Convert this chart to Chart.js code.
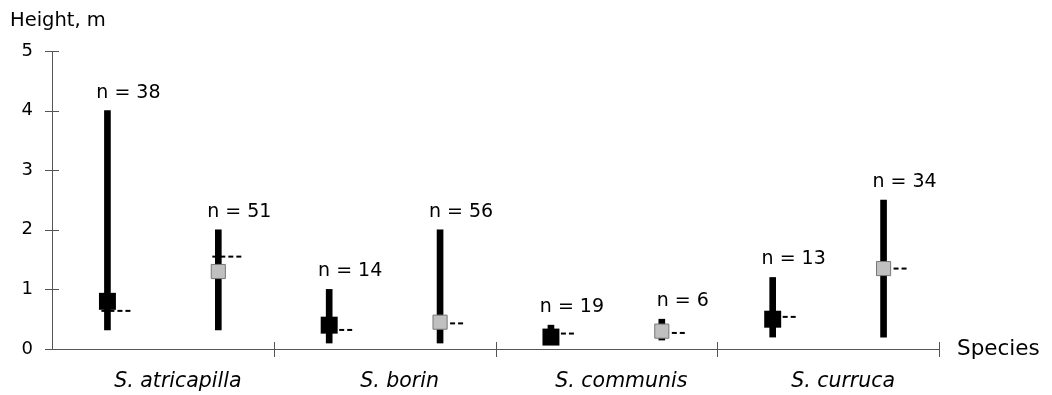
<!DOCTYPE html>
<html>
<head>
<meta charset="utf-8">
<script src="https://cdn.jsdelivr.net/npm/chart.js@4.4.1/dist/chart.umd.min.js"></script>
<style>
  html, body { margin: 0; padding: 0; background: #fff; }
  #wrap { width: 1052px; height: 395px; }
</style>
</head>
<body>
<div id="wrap"><canvas id="myChart"></canvas></div>
<script>
const species = ["S. atricapilla", "S. borin", "S. communis", "S. curruca"];
const yTicks = [0, 1, 2, 3, 4, 5];

// black series
const blackN = [38, 14, 19, 13];
const blackMin = [0.32, 0.1, 0.1, 0.2];
const blackMax = [4.0, 1.0, 0.4, 1.2];
const blackMean = [0.8, 0.4, 0.2, 0.5];
const blackMedian = [0.64, 0.32, 0.26, 0.54];

// grey series
const greyN = [51, 56, 6, 34];
const greyMin = [0.32, 0.1, 0.15, 0.2];
const greyMax = [2.0, 2.0, 0.5, 2.5];
const greyMean = [1.3, 0.45, 0.3, 1.35];
const greyMedian = [1.55, 0.43, 0.27, 1.35];

const FONT = "'DejaVu Sans', sans-serif";
Chart.defaults.font.family = FONT;
Chart.defaults.color = "#000";

// black sits in the left half of each species slot, grey in the right half
const pos = (i, k) => i * 2 + k + 0.5;
const ranges = (mins, maxs, k) => mins.map((v, i) => ({ x: pos(i, k), y: [v, maxs[i]] }));
const pts = (vals, k) => vals.map((v, i) => ({ x: pos(i, k), y: v }));

// short dashed tick used for the median, drawn to the right of the point
function dashMark() {
  const c = document.createElement("canvas");
  c.width = 60;
  c.height = 4;
  const g = c.getContext("2d");
  g.strokeStyle = "#000";
  g.lineWidth = 2;
  g.setLineDash([5, 3]);
  g.beginPath();
  g.moveTo(24, 2);
  g.lineTo(54, 2);
  g.stroke();
  return c;
}
const dash = dashMark();

const crossTicks = {
  id: "crossTicks",
  beforeDatasetsDraw(chart) {
    const { ctx, scales: { x, y } } = chart;
    ctx.save();
    ctx.strokeStyle = "#555";
    ctx.lineWidth = 1;
    ctx.beginPath();
    y.ticks.forEach((t) => {
      const py = Math.round(y.getPixelForValue(t.value)) + 0.5;
      ctx.moveTo(x.left - 7, py);
      ctx.lineTo(x.left + 7, py);
    });
    x.ticks.forEach((t) => {
      if (t.value > 0 && t.value % 2 === 0) {
        const px = Math.round(x.getPixelForValue(t.value)) + 0.5;
        ctx.moveTo(px, y.bottom - 7);
        ctx.lineTo(px, y.bottom + 8);
      }
    });
    ctx.stroke();
    ctx.restore();
  },
};

const textLabels = {
  id: "textLabels",
  afterDraw(chart) {
    const { ctx, scales: { x, y } } = chart;
    ctx.save();
    ctx.fillStyle = "#000";
    ctx.textBaseline = "alphabetic";

    ctx.textAlign = "left";
    ctx.font = "19.5px " + FONT;
    ctx.fillText("Height, m", 10, 26);
    ctx.font = "21.5px " + FONT;
    ctx.fillText("Species", 957, 355);

    ctx.textAlign = "center";
    ctx.font = "19px " + FONT;
    [[blackN, blackMax, 0], [greyN, greyMax, 1]].forEach(([ns, maxs, k]) => {
      ns.forEach((n, i) => {
        const px = x.getPixelForValue(pos(i, k)) + 21;
        const py = y.getPixelForValue(maxs[i]) - 13;
        ctx.fillText("n = " + n, px, py);
      });
    });
    ctx.restore();
  },
};

const ctx = document.getElementById("myChart").getContext("2d");
const myChart = new Chart(ctx, {
  type: "scatter",
  data: {
    datasets: [
      {
        type: "bar",
        label: "black range",
        data: ranges(blackMin, blackMax, 0),
        backgroundColor: "#000",
        barThickness: 6,
        grouped: false,
        order: 3,
      },
      {
        type: "bar",
        label: "grey range",
        data: ranges(greyMin, greyMax, 1),
        backgroundColor: "#000",
        barThickness: 6,
        grouped: false,
        order: 3,
      },
      {
        label: "black median",
        data: pts(blackMedian, 0),
        pointStyle: dash,
        order: 2,
      },
      {
        label: "grey median",
        data: pts(greyMedian, 1),
        pointStyle: dash,
        order: 2,
      },
      {
        label: "black mean",
        data: pts(blackMean, 0),
        pointStyle: "rect",
        pointRadius: 12,
        backgroundColor: "#000",
        borderColor: "#000",
        borderWidth: 0,
        order: 1,
      },
      {
        label: "grey mean",
        data: pts(greyMean, 1),
        pointStyle: "rect",
        pointRadius: 10,
        backgroundColor: "#c0c0c0",
        borderColor: "#777",
        borderWidth: 1,
        order: 1,
      },
    ],
  },
  options: {
    responsive: true,
    maintainAspectRatio: false,
    animation: false,
    layout: { padding: { top: 51, right: 113, bottom: 0, left: 0 } },
    plugins: { legend: { display: false }, tooltip: { enabled: false } },
    scales: {
      x: {
        type: "linear",
        min: 0,
        max: species.length * 2,
        offset: false,
        grid: { display: false, drawTicks: false },
        border: { color: "#555", width: 1 },
        ticks: {
          stepSize: 1,
          autoSkip: false,
          maxRotation: 0,
          padding: 20,
          labelOffset: 15,
          font: { size: 20.5, style: "italic" },
          callback: (v) => (v % 2 === 1 ? species[(v - 1) / 2] : ""),
        },
        afterFit: (s) => { s.height = 46; },
      },
      y: {
        min: yTicks[0],
        max: yTicks[yTicks.length - 1],
        grid: { display: false, drawTicks: false },
        border: { color: "#555", width: 1 },
        ticks: { stepSize: 1, padding: 19, font: { size: 18 } },
        afterFit: (s) => { s.width = 52; },
      },
    },
  },
  plugins: [crossTicks, textLabels],
});
</script>
</body>
</html>
